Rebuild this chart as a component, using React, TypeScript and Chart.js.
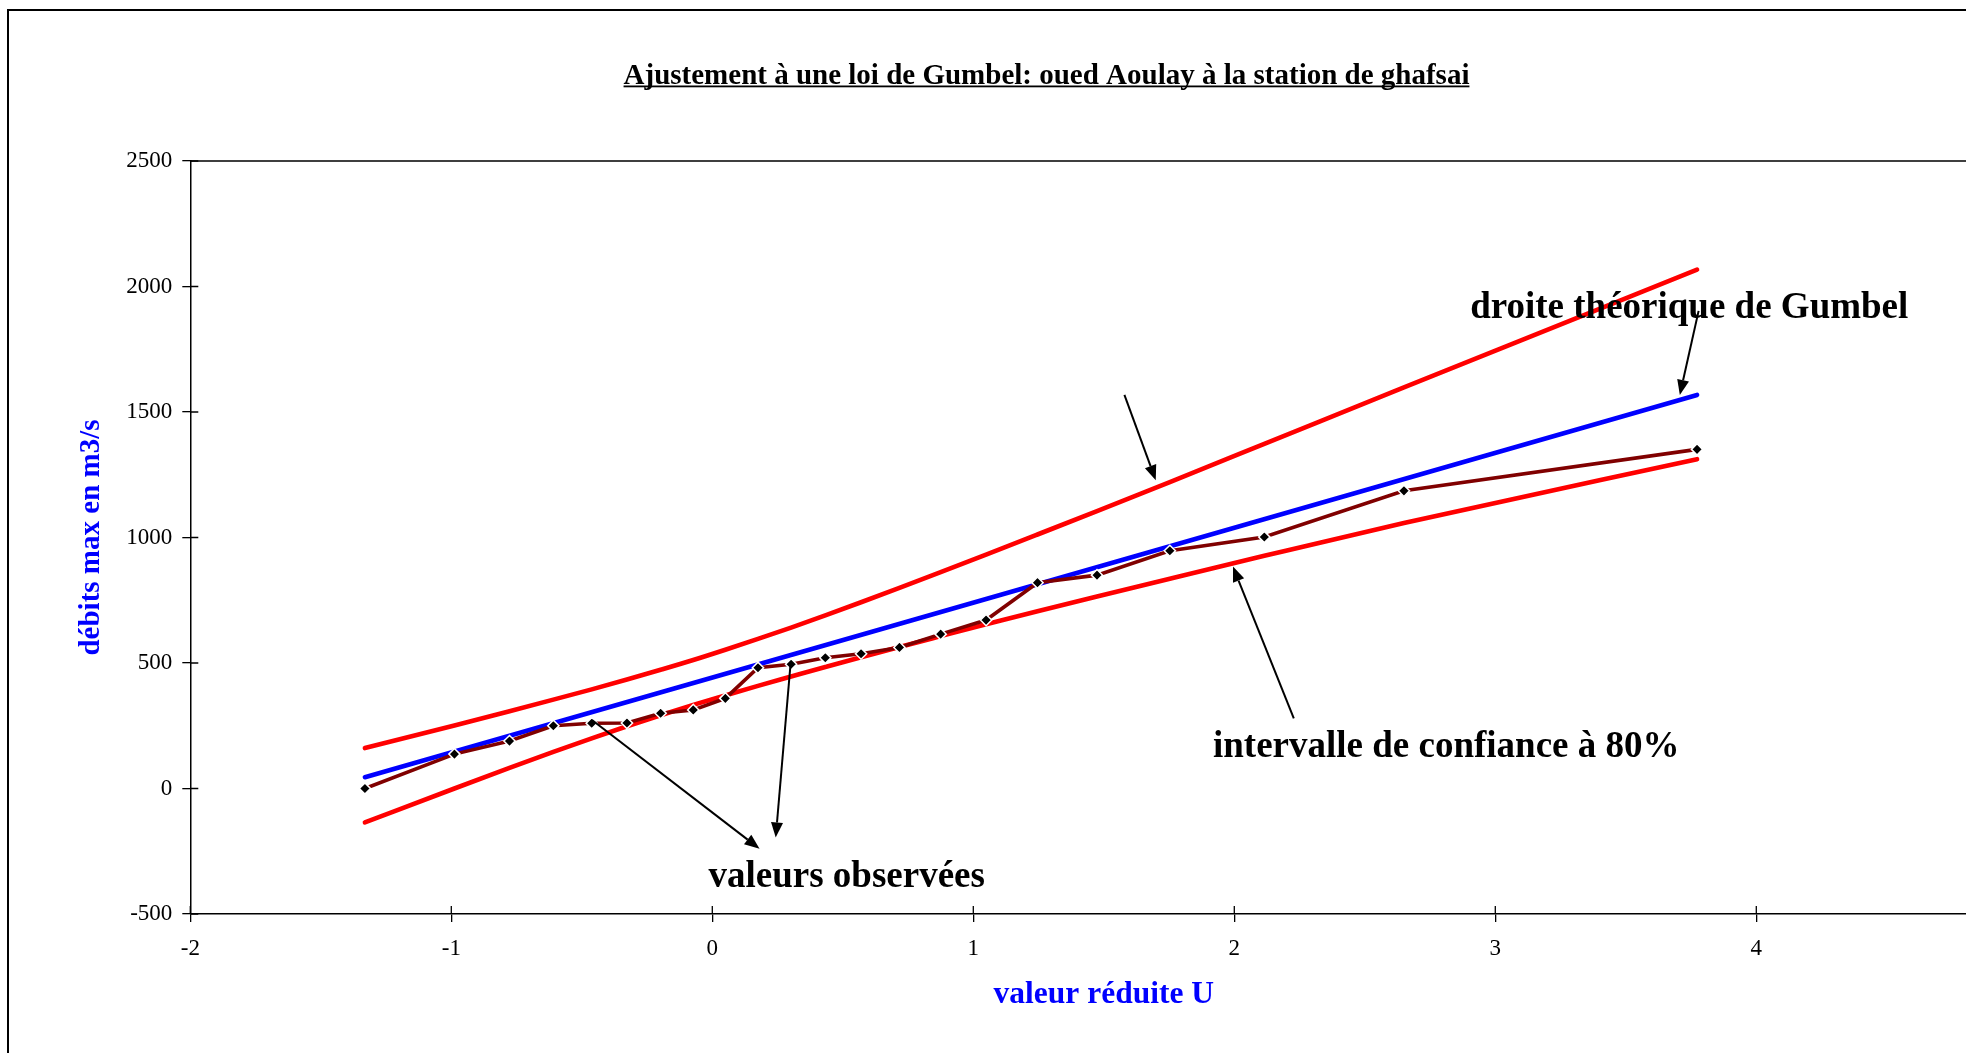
import React, { useEffect, useRef } from "react";
import { Chart, registerables } from "chart.js";

Chart.register(...registerables);

// ---------- data ----------
const TITLE = "Ajustement à une loi de Gumbel: oued Aoulay à la station de ghafsai";
const X_TITLE = "valeur réduite U";
const Y_TITLE = "débits max en m3/s";

const X_TICKS = [-2, -1, 0, 1, 2, 3, 4, 5];
const Y_TICKS = [-500, 0, 500, 1000, 1500, 2000, 2500];

// reduced variable U of each observation
const U = [
  -1.331, -0.988, -0.777, -0.609, -0.462, -0.327, -0.198, -0.073, 0.05, 0.175, 0.302,
  0.433, 0.57, 0.717, 0.875, 1.049, 1.246, 1.474, 1.753, 2.115, 2.65, 3.773,
];
// observed annual max discharges (m3/s)
const OBSERVED = [
  0, 137, 189, 250, 260, 261, 300, 313, 359, 481, 495, 521, 537, 562, 615, 671, 820, 850,
  947, 1002, 1186, 1351,
];
// 80% confidence interval bounds
const UPPER = [
  161, 251, 308, 354, 395, 434, 473, 512, 553, 596, 641, 690, 742, 799, 862, 932, 1012, 1105,
  1221, 1373, 1598, 2067,
];
const LOWER = [
  -135, 0, 82, 146, 200, 248, 292, 333, 371, 409, 446, 484, 523, 564, 607, 654, 706, 765,
  836, 927, 1058, 1312,
];
// theoretical Gumbel line (end points)
const GUMBEL_U = [-1.331, 3.773];
const GUMBEL_Q = [45, 1568];

// annotations (in data units)
const LABEL_TEXTS = ["droite théorique de Gumbel", "intervalle de confiance à 80%", "valeurs observées"];
const LABEL_U = [3.743, 2.812, 0.515];
const LABEL_Q = [1911, 164, -356];

const ARROW_FROM_U = [3.779, 1.579, 2.228, -0.461, 0.3];
const ARROW_FROM_Q = [1903, 1568, 279, 273, 499];
const ARROW_TO_U = [3.707, 1.699, 1.995, 0.181, 0.243];
const ARROW_TO_Q = [1568, 1228, 884, -240, -195];

// ---------- layout ----------
const CW = 2075;
const CH = 1100;
const FONT = "'Liberation Serif', 'Times New Roman', serif";

const decorPlugin = {
  id: "decor",
  afterDraw(chart: any) {
    const { ctx, chartArea, scales } = chart;
    const xs = scales.x;
    const ys = scales.y;
    ctx.save();

    // plot frame top / right
    ctx.strokeStyle = "#000";
    ctx.lineWidth = 1.5;
    ctx.beginPath();
    ctx.moveTo(chartArea.left, chartArea.top);
    ctx.lineTo(chartArea.right, chartArea.top);
    ctx.lineTo(chartArea.right, chartArea.bottom);
    ctx.stroke();

    // inner halves of tick marks
    ctx.lineWidth = 1.3;
    ctx.beginPath();
    xs.ticks.forEach((t: any) => {
      const px = xs.getPixelForValue(t.value);
      ctx.moveTo(px, chartArea.bottom);
      ctx.lineTo(px, chartArea.bottom - 8);
    });
    ys.ticks.forEach((t: any) => {
      const py = ys.getPixelForValue(t.value);
      ctx.moveTo(chartArea.left, py);
      ctx.lineTo(chartArea.left + 8, py);
    });
    ctx.stroke();

    // title with underline
    ctx.fillStyle = "#000";
    ctx.font = `bold 29px ${FONT}`;
    ctx.textAlign = "center";
    ctx.textBaseline = "alphabetic";
    const tx = chart.width / 2;
    const ty = 73;
    ctx.fillText(TITLE, tx, ty);
    const tw = ctx.measureText(TITLE).width;
    ctx.fillRect(tx - tw / 2, ty + 1.5, tw, 1.8);

    // annotation texts
    ctx.font = `bold 37px ${FONT}`;
    ctx.textBaseline = "middle";
    LABEL_TEXTS.forEach((txt, i) => {
      ctx.fillText(txt, xs.getPixelForValue(LABEL_U[i]), ys.getPixelForValue(LABEL_Q[i]));
    });

    // arrows
    ctx.strokeStyle = "#000";
    ctx.fillStyle = "#000";
    ctx.lineWidth = 2;
    for (let i = 0; i < ARROW_FROM_U.length; i++) {
      const x1 = xs.getPixelForValue(ARROW_FROM_U[i]);
      const y1 = ys.getPixelForValue(ARROW_FROM_Q[i]);
      const x2 = xs.getPixelForValue(ARROW_TO_U[i]);
      const y2 = ys.getPixelForValue(ARROW_TO_Q[i]);
      const ang = Math.atan2(y2 - y1, x2 - x1);
      const L = 15;
      const Wd = 6;
      const bx = x2 - L * Math.cos(ang);
      const by = y2 - L * Math.sin(ang);
      ctx.beginPath();
      ctx.moveTo(x1, y1);
      ctx.lineTo(bx, by);
      ctx.stroke();
      ctx.beginPath();
      ctx.moveTo(x2, y2);
      ctx.lineTo(bx + Wd * Math.sin(ang), by - Wd * Math.cos(ang));
      ctx.lineTo(bx - Wd * Math.sin(ang), by + Wd * Math.cos(ang));
      ctx.closePath();
      ctx.fill();
    }
    ctx.restore();
  },
};

export default function App() {
  const ref = useRef<HTMLCanvasElement>(null);

  useEffect(() => {
    const canvas = ref.current!;
    const pts = (xs: number[], ys: number[]) => xs.map((x, i) => ({ x, y: ys[i] }));
    const tickFont = { family: FONT, size: 23 };
    const yTitleFont = { family: FONT, size: 29, weight: "bold" as const };
    const xTitleFont = { family: FONT, size: 31.5, weight: "bold" as const };

    const chart = new Chart(canvas, {
      type: "line",
      data: {
        datasets: [
          {
            label: "valeurs observées",
            data: pts(U, OBSERVED),
            borderColor: "#800000",
            borderWidth: 3.6,
            pointStyle: "rectRot",
            pointRadius: 5.6,
            pointBackgroundColor: "#000",
            pointBorderColor: "#fff",
            pointBorderWidth: 1.5,
            tension: 0,
            fill: false,
          },
          {
            label: "droite théorique de Gumbel",
            data: pts(GUMBEL_U, GUMBEL_Q),
            borderColor: "#0000FF",
            borderWidth: 4.6,
            borderCapStyle: "round",
            pointRadius: 0,
            fill: false,
          },
          {
            label: "borne supérieure",
            data: pts(U, UPPER),
            borderColor: "#FF0000",
            borderWidth: 4.6,
            borderCapStyle: "round",
            pointRadius: 0,
            cubicInterpolationMode: "monotone",
            fill: false,
          },
          {
            label: "borne inférieure",
            data: pts(U, LOWER),
            borderColor: "#FF0000",
            borderWidth: 4.6,
            borderCapStyle: "round",
            pointRadius: 0,
            cubicInterpolationMode: "monotone",
            fill: false,
          },
        ],
      },
      options: {
        responsive: false,
        animation: false,
        devicePixelRatio: 1,
        layout: { padding: { top: 150, right: CW - 2008.3, bottom: 0, left: 0 } },
        plugins: {
          legend: { display: false },
          title: { display: false },
          tooltip: { enabled: false },
        },
        scales: {
          x: {
            type: "linear",
            min: -2,
            max: 5,
            afterBuildTicks: (s: any) => {
              s.ticks = X_TICKS.map((v) => ({ value: v }));
            },
            afterFit: (s: any) => {
              s.height = 197;
            },
            ticks: {
              font: tickFont,
              color: "#000",
              padding: 13,
              autoSkip: false,
              maxRotation: 0,
              callback: (v: any) => String(v),
            },
            grid: {
              display: true,
              drawOnChartArea: false,
              drawTicks: true,
              tickLength: 8,
              color: "#000",
              lineWidth: 1.3,
            },
            border: { display: true, color: "#000", width: 1.5 },
            title: {
              display: true,
              text: X_TITLE,
              color: "#0000FF",
              font: xTitleFont,
              padding: { top: 0, bottom: 97.6 },
            },
          },
          y: {
            type: "linear",
            min: -500,
            max: 2500,
            afterBuildTicks: (s: any) => {
              s.ticks = Y_TICKS.map((v) => ({ value: v }));
            },
            afterFit: (s: any) => {
              s.width = 181.3;
            },
            ticks: {
              font: tickFont,
              color: "#000",
              padding: 10,
              callback: (v: any) => String(v),
            },
            grid: {
              display: true,
              drawOnChartArea: false,
              drawTicks: true,
              tickLength: 8,
              color: "#000",
              lineWidth: 1.3,
            },
            border: { display: true, color: "#000", width: 1.5 },
            title: {
              display: true,
              text: Y_TITLE,
              color: "#0000FF",
              font: yTitleFont,
              padding: { top: 65.6, bottom: 0 },
            },
          },
        },
      },
      plugins: [decorPlugin],
    } as any);

    return () => chart.destroy();
  }, []);

  return (
    <div
      style={{
        position: "fixed",
        left: 0,
        top: 0,
        width: 1966,
        height: 1053,
        overflow: "hidden",
        background: "#fff",
      }}
    >
      <div
        style={{
          position: "absolute",
          left: 7,
          top: 9,
          width: CW,
          height: CH,
          border: "2px solid #000",
          background: "#fff",
        }}
      >
        <canvas ref={ref} width={CW} height={CH} style={{ display: "block", width: CW, height: CH }} />
      </div>
    </div>
  );
}
